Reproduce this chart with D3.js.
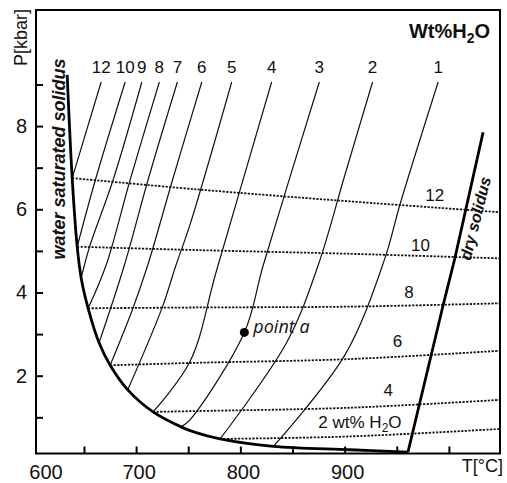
<!DOCTYPE html>
<html>
<head>
<meta charset="utf-8">
<script src="https://cdn.jsdelivr.net/npm/d3@7"></script>
<style>
  body { margin: 0; background: #fff; }
  svg text { font-family: 'Liberation Sans', Arial, sans-serif; fill: #111; }
</style>
</head>
<body>
<div id="chart"></div>
<script>
// melting of granite: water content isopleths, T [°C] vs P [kbar]

// solid isopleths (wt% H2O in melt), each read from the solidus up to the top
const iso12 = [[638.7, 6.75], [666.5, 9.06]]
const iso10 = [[643.5, 5.10], [661.0, 6.71], [689.5, 9.06]]
const iso9 = [[647.3, 4.35], [655.4, 5.10], [678.0, 6.71], [705.5, 9.06]]
const iso8 = [[654.0, 3.62], [671.3, 4.66], [694.3, 6.71], [722.3, 9.06]]
const iso7 = [[664.5, 2.79], [688.8, 4.66], [711.5, 6.71], [739.6, 9.06]]
const iso6 = [[675.1, 2.25], [696.8, 3.61], [711.2, 4.66], [735.0, 6.71], [763.0, 9.06]]
const iso5 = [[692.0, 1.66], [724.9, 3.63], [738.3, 4.66], [751.7, 5.63], [791.7, 9.06]]
const iso4 = [[716.3, 1.13], [751.7, 2.34], [777.3, 4.54], [830.0, 9.06]]
const iso3 = [[743.1, 0.77], [751.7, 0.94], [803.8, 3.04], [822.0, 4.66], [875.7, 9.06]]
const iso2 = [[780.5, 0.48], [844.7, 2.81], [874.7, 4.66], [900.3, 6.83], [926.8, 9.06]]
const iso1 = [[831.6, 0.30], [900.3, 2.50], [938.6, 4.82], [953.0, 6.11], [989.7, 9.06]]
const isoNames = ['12', '10', '9', '8', '7', '6', '5', '4', '3', '2', '1']

// dotted lines of equal water content beyond the solidus
const dot12 = [[638.7, 6.75], [757.5, 6.48], [905.1, 6.19], [1049, 5.93]]
const dot10 = [[643.5, 5.10], [757.5, 5.02], [905.1, 4.93], [1049, 4.82]]
const dot8 = [[654.0, 3.62], [757.5, 3.64], [905.1, 3.66], [1049, 3.74]]
const dot6 = [[675.1, 2.25], [757.5, 2.31], [905.1, 2.40], [1049, 2.60]]
const dot4 = [[716.3, 1.13], [757.5, 1.15], [905.1, 1.23], [1049, 1.42]]
const dot2 = [[780.5, 0.48], [905.1, 0.54], [1049, 0.72]]
const dotNames = ['12', '10', '8', '6', '4', '2']

// solidus curves
const wetSolidus = [[633.9, 9.23], [638.7, 6.75], [643.5, 5.10], [647.3, 4.35], [654.0, 3.62],
  [664.5, 2.79], [675.1, 2.25], [692.0, 1.66], [716.3, 1.13], [743.1, 0.77], [757.5, 0.63],
  [780.5, 0.48], [831.6, 0.30], [905.1, 0.22], [960.7, 0.16]]
const drySolidus = [[960.7, 0.16], [994.5, 3.70], [1005.7, 4.82], [1032.8, 7.85]]

const pointA = [803.8, 3.04]

const xTicks = [650, 700, 750, 800, 850, 900, 950, 1000]
const xTickLabels = [600, 700, 800, 900]
const yTicks = [1, 2, 3, 4, 5, 6, 7, 8, 9]
const yTickLabels = [2, 4, 6, 8]

// where the dotted-line numbers sit (T, P)
const dotLabelSpots = [[986.5, 6.35], [972.8, 5.14], [961.6, 4.02], [950.6, 2.84], [941.8, 1.66], [914.7, 0.89]]

const width = 507
const height = 483
const frame = { left: 36, right: 500, top: 10, bottom: 453.5 }

const x = d3.scaleLinear().domain([604, 1049]).range([frame.left, frame.right])
const y = d3.scaleLinear().domain([0.13, 10.79]).range([frame.bottom, frame.top])

const svg = d3.select('#chart')
  .append('svg')
  .attr('width', width)
  .attr('height', height)

svg.append('clipPath').attr('id', 'plot')
  .append('rect')
  .attr('x', frame.left).attr('y', frame.top)
  .attr('width', frame.right - frame.left)
  .attr('height', frame.bottom - frame.top)

const line = d3.line()
  .x(d => x(d[0]))
  .y(d => y(d[1]))
  .curve(d3.curveCatmullRom.alpha(0.5))

const plot = svg.append('g').attr('clip-path', 'url(#plot)')

// dotted lines
const dots = [dot12, dot10, dot8, dot6, dot4, dot2]
plot.selectAll('.dot')
  .data(dots)
  .enter().append('path')
  .attr('class', 'dot')
  .attr('d', line)
  .attr('fill', 'none')
  .attr('stroke', '#111')
  .attr('stroke-width', 1.8)
  .attr('stroke-dasharray', '2.2,1.4')

// isopleths
const isos = [iso12, iso10, iso9, iso8, iso7, iso6, iso5, iso4, iso3, iso2, iso1]
plot.selectAll('.iso')
  .data(isos)
  .enter().append('path')
  .attr('class', 'iso')
  .attr('d', line)
  .attr('fill', 'none')
  .attr('stroke', '#111')
  .attr('stroke-width', 1.2)

// solidus curves
plot.append('path')
  .attr('d', line(wetSolidus))
  .attr('fill', 'none')
  .attr('stroke', '#000')
  .attr('stroke-width', 2.8)

plot.append('path')
  .attr('d', d3.line().x(d => x(d[0])).y(d => y(d[1]))(drySolidus))
  .attr('fill', 'none')
  .attr('stroke', '#000')
  .attr('stroke-width', 2.8)

// isopleth numbers along the top
svg.selectAll('.isoLabel')
  .data(isos)
  .enter().append('text')
  .attr('x', d => x(d[d.length - 1][0]))
  .attr('y', d => y(d[d.length - 1][1]) - 9)
  .attr('text-anchor', 'middle')
  .attr('font-size', 17)
  .text((d, i) => isoNames[i])

// dotted line numbers
svg.selectAll('.dotLabel')
  .data(dotLabelSpots.slice(0, 5))
  .enter().append('text')
  .attr('x', d => x(d[0]))
  .attr('y', d => y(d[1]))
  .attr('dy', '0.35em')
  .attr('text-anchor', 'middle')
  .attr('font-size', 17)
  .text((d, i) => dotNames[i])

const last = dotLabelSpots[5]
const h2o = svg.append('text')
  .attr('x', x(last[0]))
  .attr('y', y(last[1]))
  .attr('dy', '0.35em')
  .attr('text-anchor', 'middle')
  .attr('font-size', 17)
h2o.append('tspan').text(dotNames[5] + ' wt% H')
h2o.append('tspan').attr('font-size', 12).attr('dy', 4).text('2')
h2o.append('tspan').attr('dy', -4).text('O')

// point a
svg.append('circle')
  .attr('cx', x(pointA[0]))
  .attr('cy', y(pointA[1]))
  .attr('r', 4.5)
  .attr('fill', '#000')

svg.append('text')
  .attr('x', x(pointA[0]) + 9)
  .attr('y', y(pointA[1]) + 1)
  .attr('font-style', 'italic')
  .attr('font-size', 18)
  .style('font-family', "'Open Sans', sans-serif")
  .text('point a')

// curve names
svg.append('text')
  .attr('transform', `translate(${x(632)},${y(7.21)}) rotate(-90)`)
  .attr('text-anchor', 'middle')
  .attr('font-size', 18)
  .attr('font-weight', 'bold')
  .attr('font-style', 'italic')
  .text('water saturated solidus')

svg.append('text')
  .attr('transform', `translate(${x(1030.6)},${y(5.75)}) rotate(-76)`)
  .attr('text-anchor', 'middle')
  .attr('font-size', 16)
  .attr('font-weight', 'bold')
  .attr('font-style', 'italic')
  .text('dry solidus')

// title
const title = svg.append('text')
  .attr('x', 490)
  .attr('y', 38)
  .attr('text-anchor', 'end')
  .attr('font-size', 20)
  .attr('font-weight', 'bold')
title.append('tspan').text('Wt%H')
title.append('tspan').attr('font-size', 14).attr('dy', 5).text('2')
title.append('tspan').attr('dy', -5).text('O')

// axes
const xAxis = svg.append('g')
  .attr('transform', `translate(0,${frame.bottom})`)
  .call(d3.axisBottom(x).tickValues(xTicks).tickSize(-7).tickFormat(''))
xAxis.select('.domain').remove()
xAxis.selectAll('line').attr('stroke', '#000').attr('stroke-width', 2)

svg.selectAll('.xLabel')
  .data(xTickLabels)
  .enter().append('text')
  .attr('x', d => Math.max(x(d), frame.left + 7) + 3)
  .attr('y', 479)
  .attr('text-anchor', 'middle')
  .attr('font-size', 20)
  .text(d => d)

const yAxis = svg.append('g')
  .attr('transform', `translate(${frame.left},0)`)
  .call(d3.axisLeft(y).tickValues(yTicks).tickSize(-7).tickPadding(9)
    .tickFormat(d => yTickLabels.includes(d) ? d : ''))
yAxis.select('.domain').remove()
yAxis.selectAll('line').attr('stroke', '#000').attr('stroke-width', 2)
yAxis.selectAll('text')
  .attr('font-size', 20)
  .attr('font-family', "'Liberation Sans', Arial, sans-serif")
  .attr('fill', '#111')

// frame
svg.append('rect')
  .attr('x', frame.left)
  .attr('y', frame.top)
  .attr('width', frame.right - frame.left)
  .attr('height', frame.bottom - frame.top)
  .attr('fill', 'none')
  .attr('stroke', '#000')
  .attr('stroke-width', 2)

// axis titles
svg.append('text')
  .attr('x', 503)
  .attr('y', 472)
  .attr('text-anchor', 'end')
  .attr('font-size', 18)
  .text('T[°C]')

svg.append('text')
  .attr('transform', 'translate(27,9) rotate(-90)')
  .attr('text-anchor', 'end')
  .attr('font-size', 18)
  .text('P[kbar]')
</script>
</body>
</html>
